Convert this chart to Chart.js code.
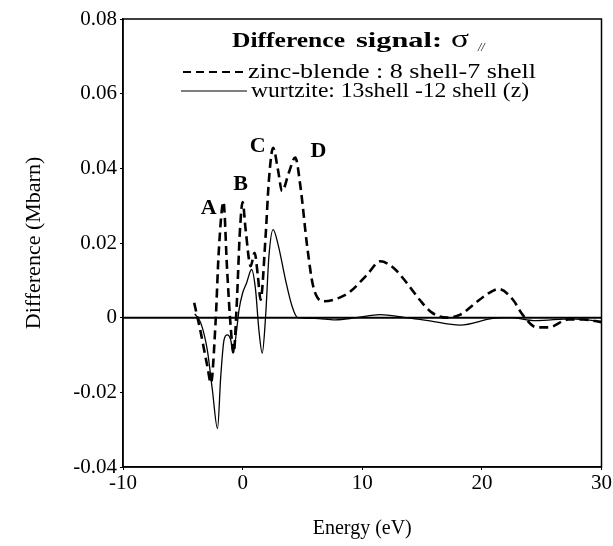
<!DOCTYPE html>
<html><head><meta charset="utf-8">
<script src="https://cdn.jsdelivr.net/npm/chart.js@4/dist/chart.umd.min.js"></script>
<style>html,body{margin:0;padding:0;background:#fff}#wrap{width:613px;height:546px}</style>
</head><body><div id="wrap"><canvas id="c" width="613" height="546"></canvas></div>
<script>
// zinc-blende : 8 shell - 7 shell (dashed)
const energyZB = [-4.05,-3.5,-2.95,-2.65,-2.25,-2.0,-1.6,-1.3,-1.0,-0.75,-0.5,-0.22,0.0,0.25,0.67,1.0,1.28,1.5,1.92,2.2,2.55,2.95,3.3,3.86,4.4,4.83,5.4,5.9,6.8,8.2,9.0,10.4,11.5,12.6,13.7,14.8,15.8,17.1,18.2,19.3,20.4,21.4,22.6,23.4,24.6,25.6,27.2,28.5,30];
const diffZB = [0.004,-0.004,-0.013,-0.0175,-0.0005,0.0174,0.031,0.013,-0.0024,-0.0095,0.003,0.0236,0.031,0.0236,0.0138,0.0174,0.011,0.0048,0.0218,0.037,0.0455,0.0397,0.0339,0.0388,0.0429,0.0352,0.019,0.0084,0.0044,0.0055,0.007,0.0115,0.0151,0.0134,0.0094,0.0048,0.0014,0.0,0.0008,0.0035,0.0062,0.0077,0.0048,0.0008,-0.0026,-0.0026,-0.0005,-0.0005,-0.0012];
// wurtzite : 13 shell - 12 shell (z) (solid)
const energyWZ = [-4.0,-3.5,-2.95,-2.53,-2.1,-1.83,-1.55,-1.28,-1.0,-0.78,-0.53,-0.3,0.0,0.33,0.75,1.08,1.36,1.64,1.92,2.2,2.55,3.0,3.58,4.14,4.6,6.0,7.75,9.5,11.5,13.5,15.5,18.2,20.9,22.3,24.5,27.5,30];
const diffWZ = [0.001,-0.0014,-0.0087,-0.0193,-0.0297,-0.0158,-0.0059,-0.0046,-0.0059,-0.0095,-0.0041,0.0021,0.0066,0.0093,0.0129,0.0075,-0.0033,-0.0095,0.0003,0.0165,0.0236,0.0191,0.0102,0.003,0.0,-0.0002,-0.0006,0.0,0.0008,0.0001,-0.0008,-0.002,-0.0002,0.0,-0.0008,-0.0003,-0.001];
// zero reference line
const zeroEnergy = [-10, 30];
const zeroDiff = [0, 0];
// ticks
const xTicks = [-10, 0, 10, 20, 30];
const yTicks = [-0.04, -0.02, 0, 0.02, 0.04, 0.06, 0.08];
// peak annotations
const peakLabels = ['A', 'B', 'C', 'D'];
const peakLabelX = [-2.83, -0.17, 1.25, 6.33];
const peakLabelY = [0.0293, 0.0357, 0.0459, 0.0446];
// legend texts
const legendTitleWords = ['Difference', 'signal:'];
const seriesNames = ['zinc-blende : 8 shell-7 shell', 'wurtzite: 13shell -12 shell (z)'];

const toPts = (xs, ys) => xs.map((x, i) => ({x: x, y: ys[i]}));
const SERIF = '"Liberation Serif", "Times New Roman", serif';
Chart.defaults.font.family = SERIF;
Chart.defaults.color = '#000';

function fitText(ctx, text, x, y, targetW) {
  const w = ctx.measureText(text).width;
  const k = targetW / w;
  ctx.save();
  ctx.translate(x, y);
  ctx.scale(k, 1);
  ctx.fillText(text, 0, 0);
  ctx.restore();
}

const framePlugin = {
  id: 'frame',
  afterDraw(chart) {
    const {ctx, chartArea: a, scales} = chart;
    ctx.save();
    ctx.strokeStyle = '#000';
    ctx.lineWidth = 1.5;
    ctx.strokeRect(a.left, a.top, a.right - a.left, a.bottom - a.top);
    // peak labels
    ctx.font = 'bold 22px ' + SERIF;
    ctx.fillStyle = '#000';
    ctx.textAlign = 'center';
    ctx.textBaseline = 'middle';
    peakLabels.forEach((t, i) => {
      ctx.fillText(t, scales.x.getPixelForValue(peakLabelX[i]), scales.y.getPixelForValue(peakLabelY[i]));
    });
    // legend
    ctx.textAlign = 'left';
    ctx.textBaseline = 'alphabetic';
    ctx.font = 'bold 21px ' + SERIF;
    fitText(ctx, legendTitleWords[0], 232, 47, 113);
    fitText(ctx, legendTitleWords[1], 356, 47, 86);
    ctx.font = '26px ' + SERIF;
    fitText(ctx, 'σ', 451, 47, 18);
    ctx.font = 'italic 12px ' + SERIF;
    ctx.fillText('//', 478, 51);
    ctx.font = '20px ' + SERIF;
    ctx.strokeStyle = '#000';
    ctx.lineWidth = 2;
    ctx.setLineDash([8, 5]);
    ctx.beginPath(); ctx.moveTo(183, 72); ctx.lineTo(247, 72); ctx.stroke();
    ctx.setLineDash([]);
    ctx.lineWidth = 1.2;
    ctx.beginPath(); ctx.moveTo(181, 91); ctx.lineTo(247, 91); ctx.stroke();
    fitText(ctx, seriesNames[0], 248, 78, 288);
    fitText(ctx, seriesNames[1], 251, 97, 278);
    ctx.restore();
  }
};

new Chart(document.getElementById('c'), {
  type: 'line',
  data: {
    datasets: [
      {label: 'zero', data: toPts(zeroEnergy, zeroDiff), borderColor: '#000', borderWidth: 2, pointRadius: 0, tension: 0},
      {label: seriesNames[0], data: toPts(energyZB, diffZB), borderColor: '#000', borderWidth: 2.6, borderDash: [9, 5], pointRadius: 0, cubicInterpolationMode: 'monotone'},
      {label: seriesNames[1], data: toPts(energyWZ, diffWZ), borderColor: '#000', borderWidth: 1.3, pointRadius: 0, cubicInterpolationMode: 'monotone'}
    ]
  },
  options: {
    responsive: false,
    animation: false,
    devicePixelRatio: 1,
    layout: {padding: {left: 0, top: 19, right: 6, bottom: 0}},
    plugins: {legend: {display: false}, tooltip: {enabled: false}},
    scales: {
      x: {
        type: 'linear', min: -10, max: 30,
        afterBuildTicks: s => { s.ticks = xTicks.map(v => ({value: v})); },
        afterFit: s => { s.height = 79; },
        grid: {display: true, drawOnChartArea: false, tickLength: 3, color: '#000'},
        border: {display: true, color: '#000', width: 1.5},
        ticks: {font: {size: 21}, padding: 1, maxRotation: 0, color: '#000', callback: v => String(v)},
        title: {display: true, text: 'Energy (eV)', font: {size: 20}, padding: {top: 0, bottom: 5}, color: '#000'}
      },
      y: {
        type: 'linear', min: -0.04, max: 0.08,
        afterBuildTicks: s => { s.ticks = yTicks.map(v => ({value: v})); },
        afterFit: s => { s.width = 123; },
        grid: {display: true, drawOnChartArea: false, tickLength: 3, color: '#000'},
        border: {display: true, color: '#000', width: 1.5},
        ticks: {font: {size: 21}, padding: 3, color: '#000', callback: v => (v === 0 ? '0' : v.toFixed(2))},
        title: {display: true, text: 'Difference (Mbarn)', font: {size: 22}, padding: {top: 21, bottom: 0}, color: '#000'}
      }
    }
  },
  plugins: [framePlugin]
});
</script></body></html>
